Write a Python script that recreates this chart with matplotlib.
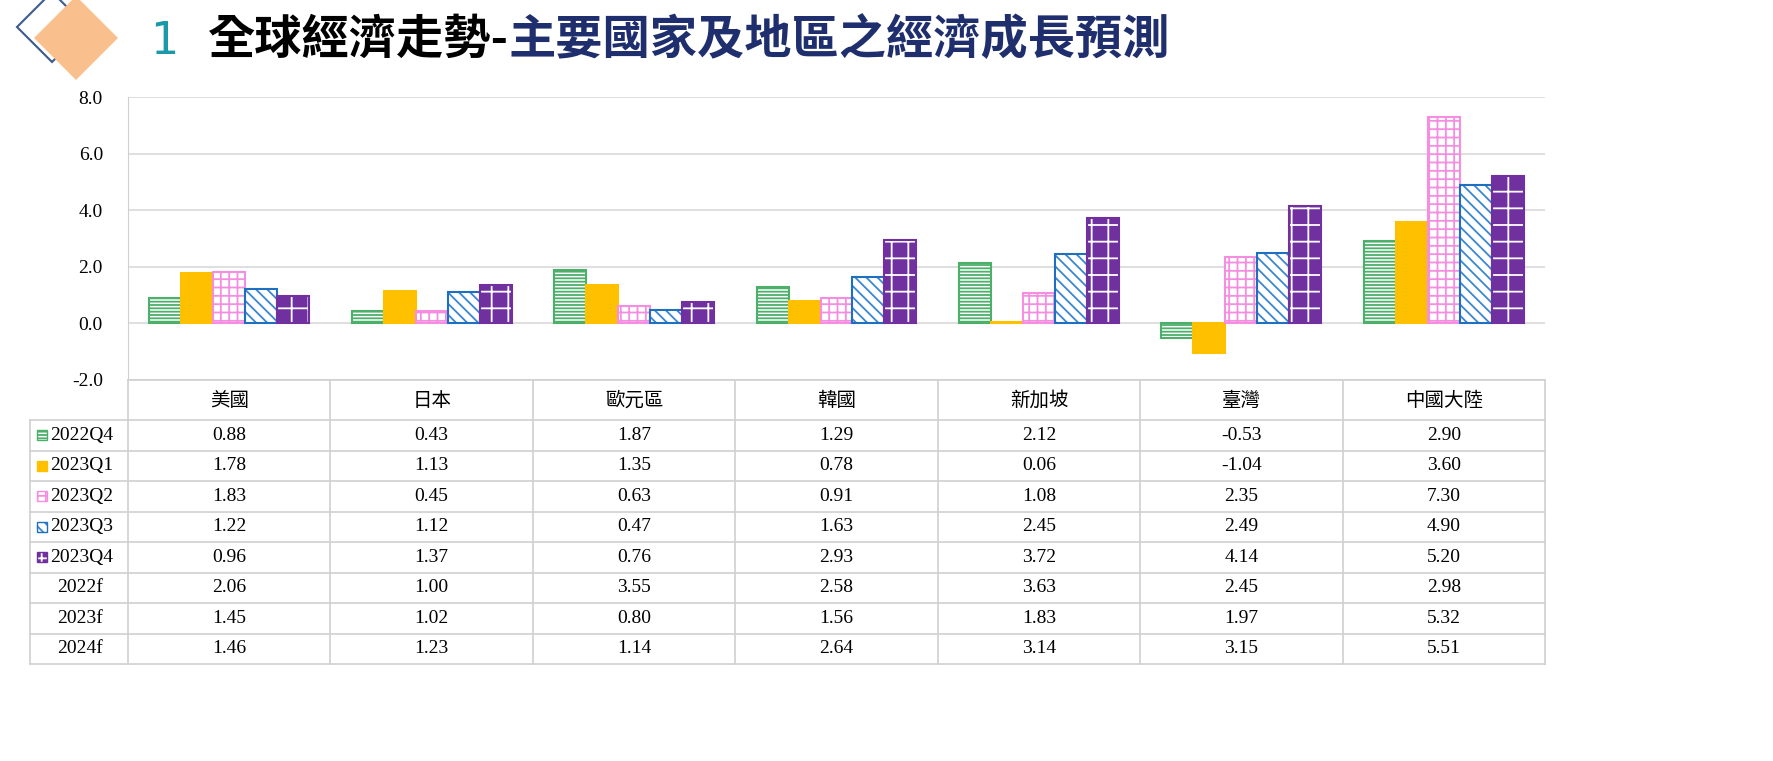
import matplotlib
matplotlib.use("Agg")
import numpy as np
import matplotlib.pyplot as plt
from matplotlib.patches import Rectangle, Polygon

regions = ["美國", "日本", "歐元區", "韓國", "新加坡", "臺灣", "中國大陸"]
row_labels = ["2022Q4", "2023Q1", "2023Q2", "2023Q3", "2023Q4", "2022f", "2023f", "2024f"]
q2022_4 = [0.88, 0.43, 1.87, 1.29, 2.12, -0.53, 2.90]
q2023_1 = [1.78, 1.13, 1.35, 0.78, 0.06, -1.04, 3.60]
q2023_2 = [1.83, 0.45, 0.63, 0.91, 1.08, 2.35, 7.30]
q2023_3 = [1.22, 1.12, 0.47, 1.63, 2.45, 2.49, 4.90]
q2023_4 = [0.96, 1.37, 0.76, 2.93, 3.72, 4.14, 5.20]
f2022 = [2.06, 1.00, 3.55, 2.58, 3.63, 2.45, 2.98]
f2023 = [1.45, 1.02, 0.80, 1.56, 1.83, 1.97, 5.32]
f2024 = [1.46, 1.23, 1.14, 2.64, 3.14, 3.15, 5.51]
yticks = [-2.0, 0.0, 2.0, 4.0, 6.0, 8.0]

series = [q2022_4, q2023_1, q2023_2, q2023_3, q2023_4]
table_rows = series + [f2022, f2023, f2024]
# face, hatch colour, hatch
styles = [
    ("white", "#4caf6a", "-----"),
    ("#ffc000", "#ffc000", None),
    ("white", "#f58ee0", "++"),
    ("white", "#3a86d0", "\\\\\\"),
    ("#7030a0", "white", "+"),
]
outline = ["#4caf6a", "#ffc000", "#f58ee0", "#1f6fc0", "#7030a0"]

CJK = ["Noto Sans CJK TC", "DejaVu Sans"]
SERIF = "Liberation Serif"
plt.rcParams["hatch.linewidth"] = 1.3

W, H = 1774, 761
fig = plt.figure(figsize=(W / 100, H / 100), dpi=100)


def fx(px):
    return px / W


def fy(py):
    return 1 - py / H


# header
fig.patches.append(Polygon([(fx(52), fy(-8)), (fx(87), fy(27)), (fx(52), fy(62)), (fx(17), fy(27))],
                           closed=True, fill=False, edgecolor="#3b5b8c", lw=1.5, transform=fig.transFigure))
fig.patches.append(Polygon([(fx(76), fy(-4)), (fx(118), fy(38)), (fx(76), fy(80)), (fx(34), fy(38))],
                           closed=True, facecolor="#f9c08e", edgecolor="none", transform=fig.transFigure))
fig.text(fx(150), fy(42), "1", fontsize=32, color="#1a9aa8", va="center", family=["DejaVu Sans"])
t1 = fig.text(fx(208), fy(40), "全球經濟走勢-", fontsize=34, weight="bold", va="center", family=CJK)
fig.canvas.draw()
bb = t1.get_window_extent()
fig.text(bb.x1 / W, fy(40), "主要國家及地區之經濟成長預測", fontsize=34, weight="bold",
         color="#1f2f6e", va="center", family=CJK)

# chart
L, R, T, B = 128, 1545, 97, 380
ax = fig.add_axes([fx(L), fy(B), fx(R - L), (B - T) / H])
x = np.arange(len(regions))
width = 0.158
for i, (vals, (face, hcol, hatch)) in enumerate(zip(series, styles)):
    pos = x + (i - 2) * width
    ax.bar(pos, vals, width, color=face, edgecolor=hcol, hatch=hatch, lw=0, zorder=3)
    ax.bar(pos, vals, width, fill=False, edgecolor=outline[i], lw=1.5, zorder=4)
ax.set_xlim(-0.5, len(regions) - 0.5)
ax.set_ylim(-2, 8)
ax.set_yticks(yticks)
ax.set_yticklabels([f"{v:.1f}" for v in yticks], family=SERIF, fontsize=14)
ax.set_xticks([])
ax.grid(axis="y", color="#d9d9d9", lw=1.2, zorder=0)
ax.tick_params(length=0, pad=18)
for s in ["top", "right", "bottom"]:
    ax.spines[s].set_visible(False)
ax.spines["left"].set_color("#d0d0d0")

# table
TL, TT = 30, 380
hdr_h = 40
row_h = 30.5
col_w = (R - L) / len(regions)
TB = TT + hdr_h + row_h * len(row_labels)
lc = "#d0d0d0"
fig.add_artist(plt.Line2D([fx(L), fx(R)], [fy(TT), fy(TT)], color=lc, lw=1.2))
for j in range(len(regions) + 1):
    xx = L + j * col_w
    fig.add_artist(plt.Line2D([fx(xx), fx(xx)], [fy(TT), fy(TB)], color=lc, lw=1.2))
fig.add_artist(plt.Line2D([fx(TL), fx(TL)], [fy(TT + hdr_h), fy(TB)], color=lc, lw=1.2))
for r in range(len(row_labels) + 1):
    yy = TT + hdr_h + r * row_h
    fig.add_artist(plt.Line2D([fx(TL), fx(R)], [fy(yy), fy(yy)], color=lc, lw=1.2))
for j, name in enumerate(regions):
    fig.text(fx(L + (j + 0.5) * col_w), fy(TT + hdr_h / 2), name, ha="center", va="center",
             fontsize=14, family=CJK)
for r, (lab, vals) in enumerate(zip(row_labels, table_rows)):
    yc = TT + hdr_h + (r + 0.5) * row_h
    if r < len(series):
        face, hcol, hatch = styles[r]
        fig.patches.append(Rectangle((fx(37), fy(yc + 5)), fx(10), 10 / H, facecolor=face,
                                     edgecolor=hcol, hatch=hatch, lw=0, transform=fig.transFigure))
        fig.patches.append(Rectangle((fx(37), fy(yc + 5)), fx(10), 10 / H, fill=False,
                                     edgecolor=outline[r], lw=1, transform=fig.transFigure))
        fig.text(fx(50), fy(yc), lab, va="center", fontsize=14, family=SERIF)
    else:
        fig.text(fx(80), fy(yc), lab, ha="center", va="center", fontsize=14, family=SERIF)
    for j, v in enumerate(vals):
        fig.text(fx(L + (j + 0.5) * col_w), fy(yc), f"{v:.2f}", ha="center", va="center",
                 fontsize=14, family=SERIF)

fig.savefig("out.png", dpi=100)
